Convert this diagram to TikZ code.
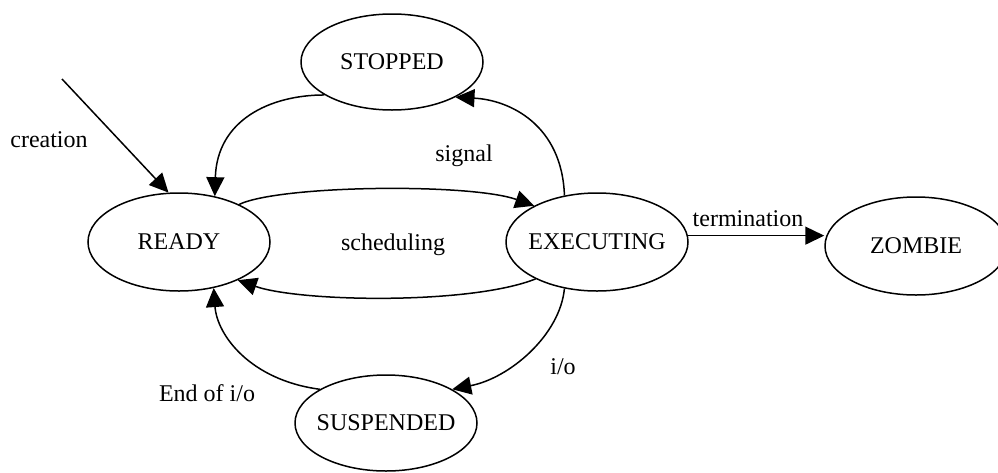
\documentclass[tikz,border=0pt]{standalone}
\usepackage{fontspec}
\setmainfont{Liberation Serif}
\usetikzlibrary{shapes.geometric,arrows.meta}
\begin{document}
\begin{tikzpicture}[x=1pt,y=-1pt,
  state/.style={ellipse,draw,line width=1.5pt,minimum width=182pt,minimum height=98pt,inner ysep=0pt,inner xsep=-15pt,font=\fontsize{24}{28}\selectfont},
  lbl/.style={font=\fontsize{24}{28}\selectfont,inner sep=0pt},
  conn/.style={line width=1.5pt,-{Triangle[length=19pt,width=18pt]}}]
\useasboundingbox (0,0) rectangle (998,472);
\clip (0,0) rectangle (998,472);
\node[state] (READY) at (179,242) {READY};
\node[state,minimum height=96pt] (STOPPED) at (392,62) {STOPPED};
\node[state] (EXEC) at (597,242) {EXECUTING};
\node[state] (ZOMBIE) at (916,246) {ZOMBIE};
\node[state,minimum height=96pt] (SUSP) at (386,423) {SUSPENDED};
\coordinate (cstart) at (62,79);
\draw[conn] (cstart) -- (READY.102);
\draw[conn] (STOPPED.206) .. controls (270,95) and (217,120) .. (READY.52);
\draw[conn] (EXEC.125) .. controls (562,125) and (510,100) .. (STOPPED.331);
\draw[conn] (READY.32) .. controls (280,185) and (470,183) .. (EXEC.150);
\draw[conn] (EXEC.211) .. controls (470,305) and (300,302) .. (READY.327);
\draw[conn] (EXEC.235) .. controls (560,335) and (510,378) .. (SUSP.27);
\draw[conn] (SUSP.153) .. controls (250,380) and (217,335) .. (READY.307);
\draw[conn] (EXEC.4) -- (EXEC.4 -| ZOMBIE.west);
\node[lbl] (lcreation) at (49,140) {creation};
\node[lbl] (lsignal) at (464,156) {signal};
\node[lbl] (lsched) at (393,245) {scheduling};
\node[lbl] (lterm) at (748,219) {termination};
\node[lbl] (lend) at (207,393) {End of i/o};
\node[lbl] (lio) at (563,367) {i/o};
\end{tikzpicture}
\end{document}
